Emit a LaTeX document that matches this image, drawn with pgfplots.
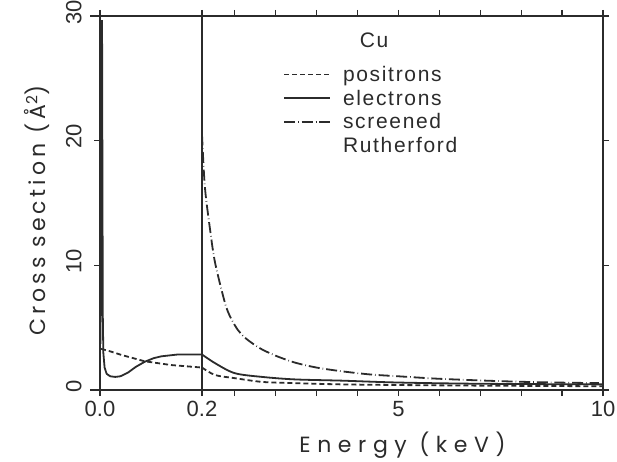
\documentclass[border=0pt]{standalone}
\usepackage{fontspec}
\setmainfont{Liberation Sans}
\newfontfamily\xlabelfont[LetterSpace=30]{Poppins}
\newfontfamily\ylabelfont[LetterSpace=18]{Poppins}
\newfontfamily\legfont[LetterSpace=8]{Liberation Sans}
\usepackage{pgfplots}
\pgfplotsset{compat=1.18}
\definecolor{ink}{HTML}{2B2B2B}

\begin{document}
\begin{tikzpicture}
\pgfplotsset{
  common/.style={
    scale only axis, height=374pt, ymin=0, ymax=30,
    axis line style={ink, line width=1.6pt},
    tick style={ink, line width=1.2pt},
    major tick length=6pt,
    tick align=outside,
    ytick={0,10,20,30},
    ticklabel style={font=\fontsize{22}{22}\selectfont, text=ink},
    xticklabel style={yshift=-2pt},
    /pgf/number format/assume math mode=true,
    clip=false,
  },
  curve/.style={ink, line width=1.8pt},
  pos/.style={curve, dash pattern=on 5pt off 3pt},
  ele/.style={curve},
  ruth/.style={curve, dash pattern=on 11pt off 3pt on 0.6pt off 3pt},
}
% left panel 0 - 0.2 keV
\begin{axis}[common, at={(100pt,71pt)}, anchor=south west, width=102pt,
  xmin=0, xmax=0.2, xtick={0,0.2}, xticklabels={0.0,0.2},
  ytick pos=left,
  yticklabel style={rotate=90, anchor=south, yshift=9pt, xshift=4pt},
  ylabel={\ylabelfont\fontsize{22}{22}\selectfont Cross section (Å\textsuperscript{2})},
  ylabel style={at={(axis description cs:-0.539,0.48)}, anchor=base, text=ink},
]
\addplot[pos] coordinates {
 (0.002,3.3) (0.02,3.1) (0.043,2.8) (0.088,2.3) (0.14,2.0) (0.2,1.8)
};
\addplot[ele] coordinates {
 (0.001,3.7) (0.003,29.6) (0.004,29.6) (0.0055,6) (0.0065,3.0) (0.009,1.8)
 (0.013,1.3) (0.02,1.1) (0.03,1.05) (0.04,1.1) (0.055,1.4) (0.07,1.85)
 (0.088,2.27) (0.105,2.55) (0.12,2.7) (0.153,2.85) (0.2,2.85)
};
\draw[ink, line width=1.6pt] (rel axis cs:0,0) -- ++(-10pt,0);
\draw[ink, line width=1.6pt] (rel axis cs:0,1) -- ++(-10pt,0);
\end{axis}
% right panel 0.2 - 10 keV
\begin{axis}[common, at={(202pt,71pt)}, anchor=south west, width=401pt,
  xmin=0.2, xmax=10, xtick={1,2,...,10}, xticklabels={,,,,5,,,,,10},
  ytick pos=right, yticklabels={},
  xlabel={\xlabelfont\fontsize{22}{22}\selectfont Energy (keV)},
  xlabel style={at={(axis description cs:0.5,-0.168)}, anchor=base, text=ink},
  legend style={at={(axis description cs:0.202,0.872)}, anchor=north west,
    draw=none, fill=none, font=\legfont\fontsize{21}{20}\selectfont, text=ink,
    cells={anchor=west}, row sep=3pt, inner sep=0pt, column sep=10pt},
  legend image code/.code={\draw[#1] (0pt,0pt) -- (46pt,0pt);},
]
\addplot[pos, smooth] coordinates {
 (0.2,1.8) (0.52,1.2) (1.0,0.95) (1.67,0.65) (2.47,0.55) (3.62,0.45)
 (5,0.4) (7,0.35) (10,0.3)
};
\addlegendentry{positrons}
\addplot[ele, smooth] coordinates {
 (0.2,2.85) (0.52,2.15) (1.0,1.35) (1.67,1.05) (2.47,0.85) (3.62,0.75)
 (5,0.6) (7,0.5) (10,0.45)
};
\addlegendentry{electrons}
\addplot[ruth, smooth] coordinates {
 (0.2,20.5) (0.27,16.3) (0.4,12.8) (0.52,10.2) (0.76,7.0) (0.9,5.8)
 (1.08,4.8) (1.25,4.2) (1.45,3.7) (1.67,3.25) (2.0,2.75) (2.47,2.2)
 (3.0,1.8) (3.62,1.5) (4.3,1.25) (5,1.1) (6,0.9) (7.4,0.72) (8.5,0.62) (9.9,0.55)
};
\addlegendentry{screened}
\addlegendimage{empty legend}
\addlegendentry{Rutherford}
\node[font=\legfont\fontsize{21}{21}\selectfont, text=ink] at (axis description cs:0.429,0.936) {Cu};
\draw[ink, line width=1.6pt] (rel axis cs:1,0) -- ++(10pt,0);
\draw[ink, line width=1.6pt] (rel axis cs:1,1) -- ++(10pt,0);
\end{axis}
\pgfresetboundingbox
\useasboundingbox (0,0) rectangle (617pt,461pt);
\end{tikzpicture}
\end{document}
